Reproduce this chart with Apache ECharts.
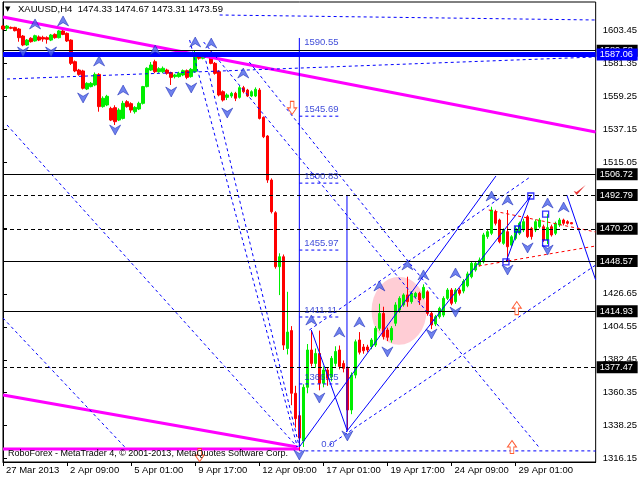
<!DOCTYPE html>
<html><head><meta charset="utf-8">
<script src="https://cdn.jsdelivr.net/npm/echarts@6/dist/echarts.min.js"></script>
<style>html,body{margin:0;padding:0;background:#fff}#c{width:640px;height:480px}</style>
</head><body><div id="c"></div>
<script>
// ---- candles (H4 bars) ----
const opens = [1606.1,1604.6,1605.2,1605.2,1604.1,1599.4,1593.4,1597.9,1596.1,1598.8,
1598.5,1598.3,1596.7,1600.5,1598.3,1602.8,1601.2,1596.7,1582.2,1576.6,
1576.0,1563.9,1565.5,1566.6,1573.7,1552.1,1553.2,1550.9,1551.4,1543.1,
1544.2,1555.4,1554.1,1548.7,1550.5,1554.3,1565.5,1576.6,1582.2,1575.5,
1575.5,1576.6,1574.9,1572.2,1572.2,1573.3,1576.2,1572.2,1575.5,1586.7,
1584.5,1585.6,1587.4,1581.1,1575.5,1562.1,1558.3,1559.2,1561.0,1558.3,
1564.8,1563.2,1559.2,1559.2,1563.2,1544.9,1532.4,1502.9,1481.0,1444.8,
1451.5,1390.0,1402.0,1360.0,1345.0,1328.0,1364.0,1389.0,1380.0,1386.7,
1366.7,1375.6,1371.0,1380.0,1389.0,1380.0,1376.7,1348.8,1372.2,1395.7,
1391.0,1391.0,1391.2,1392.3,1403.5,1413.5,1402.4,1395.7,1406.9,1415.8,
1419.2,1425.9,1421.4,1424.7,1427.0,1424.0,1428.0,1413.5,1406.4,1411.3,
1412.4,1423.6,1429.2,1421.4,1429.2,1428.5,1432.0,1438.1,1442.6,1446.0,
1448.2,1465.0,1467.2,1481.7,1476.1,1460.5,1468.3,1459.3,1463.8,1467.2,
1469.4,1478.3,1470.5,1469.4,1471.6,1471.6,1463.0,1471.6,1467.2,1472.8,
1476.1,1475.0,1474.33];
const closes = [1604.1,1606.1,1604.6,1603.0,1598.3,1593.4,1596.7,1595.6,1599.6,1596.7,
1597.4,1597.2,1600.1,1598.3,1602.8,1600.5,1596.1,1581.1,1576.0,1573.7,
1564.4,1567.7,1567.7,1573.7,1552.1,1557.7,1559.0,1543.1,1542.0,1549.8,
1554.3,1552.1,1549.8,1551.6,1554.3,1565.5,1577.8,1580.0,1575.5,1577.5,
1577.8,1574.4,1571.7,1573.3,1574.4,1576.2,1571.7,1577.1,1586.7,1584.5,
1586.0,1586.7,1581.1,1574.4,1559.9,1556.5,1559.9,1561.0,1557.7,1564.8,
1562.1,1559.2,1562.1,1563.7,1544.2,1531.9,1502.9,1481.7,1444.8,1451.5,
1392.3,1401.0,1360.0,1343.0,1330.0,1364.0,1389.0,1380.0,1386.7,1366.7,
1375.6,1370.0,1383.4,1388.0,1378.0,1376.7,1348.8,1372.2,1394.5,1387.5,
1388.5,1389.0,1395.7,1403.5,1413.5,1398.0,1397.5,1403.5,1419.2,1423.6,
1425.9,1421.4,1427.0,1427.0,1422.5,1431.0,1413.5,1405.8,1411.3,1416.9,
1423.6,1429.2,1420.3,1429.2,1427.0,1435.0,1440.0,1447.1,1447.1,1449.3,
1466.1,1468.3,1482.8,1473.9,1461.6,1469.4,1458.2,1464.9,1470.5,1473.9,
1475.0,1465.0,1465.0,1475.0,1476.1,1462.7,1471.0,1466.1,1473.9,1476.1,
1473.9,1473.9,1473.59];
const lows = [1603.4,1602.8,1604.0,1602.5,1595.6,1592.6,1592.8,1595.0,1595.6,1596.0,
1595.6,1594.3,1596.0,1597.6,1597.8,1600.0,1595.4,1580.0,1575.2,1572.8,
1563.6,1563.2,1565.0,1565.8,1548.7,1551.4,1552.4,1542.4,1539.8,1542.4,
1543.5,1551.4,1548.0,1547.4,1549.8,1553.5,1565.0,1576.0,1574.5,1574.8,
1574.5,1573.5,1566.6,1571.0,1571.5,1572.5,1570.5,1571.5,1574.8,1583.5,
1583.8,1585.0,1580.5,1573.5,1559.0,1555.5,1556.5,1558.0,1555.8,1557.5,
1561.0,1558.5,1558.5,1558.5,1543.5,1531.0,1501.0,1480.5,1443.5,1425.8,
1389.0,1386.0,1352.0,1337.0,1321.4,1324.0,1360.0,1378.0,1377.0,1362.0,
1364.0,1365.0,1368.0,1378.0,1376.0,1374.0,1335.4,1346.0,1370.0,1386.0,
1386.5,1387.5,1389.5,1391.0,1402.0,1396.0,1395.0,1394.0,1405.0,1414.0,
1418.0,1418.0,1420.0,1423.5,1419.2,1423.0,1412.0,1403.0,1405.0,1410.0,
1411.0,1422.5,1419.0,1420.0,1425.5,1427.0,1431.0,1437.0,1441.5,1445.0,
1447.0,1463.5,1466.0,1472.5,1460.5,1459.5,1448.2,1458.0,1462.5,1466.0,
1468.0,1464.0,1463.0,1468.0,1470.5,1461.5,1460.0,1465.0,1466.0,1471.5,
1472.5,1473.0,1473.31];
const highs = [1606.8,1606.8,1605.8,1605.6,1604.8,1600.1,1597.4,1598.6,1600.3,1599.8,
1599.6,1599.2,1600.8,1601.2,1603.4,1604.1,1601.8,1597.2,1583.0,1577.4,
1576.8,1568.4,1568.6,1575.0,1574.5,1559.0,1560.0,1552.0,1553.0,1551.0,
1556.0,1556.4,1555.0,1552.4,1555.4,1566.0,1578.5,1582.0,1583.5,1578.5,
1579.0,1577.5,1575.5,1574.0,1575.5,1577.0,1577.0,1578.0,1589.5,1588.0,
1587.0,1588.5,1589.0,1582.0,1576.5,1563.0,1561.0,1562.0,1562.0,1566.0,
1566.0,1564.0,1563.0,1565.0,1564.5,1545.5,1533.0,1504.0,1482.0,1453.8,
1453.0,1428.0,1405.0,1365.0,1348.0,1366.0,1393.0,1402.4,1390.0,1402.0,
1378.0,1377.0,1385.0,1391.5,1392.0,1382.0,1378.0,1374.0,1396.0,1401.0,
1393.0,1392.5,1397.0,1405.0,1420.0,1418.0,1404.0,1405.0,1421.0,1425.0,
1427.0,1438.1,1428.5,1428.0,1428.0,1433.0,1429.0,1414.5,1412.5,1418.0,
1425.0,1430.5,1430.5,1430.5,1430.5,1436.5,1441.5,1448.5,1448.5,1451.0,
1467.5,1470.0,1485.0,1483.0,1477.0,1470.5,1482.8,1466.0,1472.0,1475.0,
1477.0,1479.5,1471.5,1476.5,1477.5,1473.0,1480.0,1473.0,1475.0,1477.5,
1477.0,1476.0,1474.67];
const slotCount = 149;

// ---- axis ticks ----
const tickIndex = [0,16,32,48,64,80,96,112,128];
const tickLabels = ['27 Mar 2013','2 Apr 09:00','5 Apr 01:00','9 Apr 17:00','12 Apr 09:00','17 Apr 01:00','19 Apr 17:00','24 Apr 09:00','29 Apr 01:00'];
const priceTicks = [1603.45,1581.35,1559.25,1537.15,1515.05,1492.95,1470.85,1448.75,1426.65,1404.55,1382.45,1360.35,1338.25,1316.15];

// ---- horizontal levels ----
const solidLevels = [1589.58,1506.72,1448.57,1414.93];
const dashedLevels = [1492.79,1470.20,1377.47];
const blueLevel = 1587.06;
const lastPrice = 1473.59;

// ---- fibonacci ----
const fibLevels = [1590.55,1545.69,1500.83,1455.97,1411.11,1366.25,1321.39];
const fibTexts = ['1590.55','1545.69','1500.83','1455.97','1411.11','1366.25','0.0'];
const fibTextX = [75.2,75.2,75.2,75.2,75.2,75.2,79.5];

// ---- drawn lines ([barIndex, price] end points) ----
const magentaLines = [[[0,1612.16],[148,1535.10]],[[0,1358.85],[73.5,1324.0]],[[0,1322.66],[74,1322.66]]];
const blueSolidLines = [[[74,1598.1],[74,1324.0]],[[85.9,1492.5],[85.9,1334.05]],[[74,1324.0],[123.1,1505.6]],
  [[85.7,1334.05],[131.8,1492.2]],[[77.0,1402.4],[85.9,1335.4]],[[125.6,1448.0],[131.8,1492.9]],[[140.8,1492.9],[148,1435.9]]];
const blueDashedLines = [[[1.0,1570.6],[148,1585.36]],[[54.1,1613.5],[148,1610.15]],[[46.6,1596.75],[73.5,1324.0]],
  [[1.0,1539.8],[73.5,1324.0]],[[50.3,1586.7],[74,1324.0]],[[50.1,1595.4],[133.8,1324.0]],[[61.5,1582.0],[108.9,1422.5]],
  [[81.5,1325.3],[148,1445.9]],[[0,1410.4],[30.4,1324.0]],[[76.5,1402.4],[131.3,1504.3]],
  [[74,1545.69],[84,1545.69]],[[74,1500.83],[84,1500.83]],[[74,1455.97],[84,1455.97]],[[74,1411.11],[84,1411.11]],
  [[74,1366.25],[84,1366.25]],[[74,1321.39],[148,1321.39]]];
const redDashedLines = [[[121.3,1482.8],[148,1468.1]],[[118.8,1445.3],[148,1458.7]]];
const whiteDashedLines = [[[94.4,1427.2],[103.1,1427.2]],[[93.2,1404.4],[103.4,1404.4]]];

// ---- markers ----
const fractalUp = [[8,1607.5],[15,1609.5],[24,1582.7],[30,1563.2],[38,1590.0],[48,1595.4],[52,1594.7],[60,1574.6],
  [77,1409.1],[84,1401.1],[89,1407.8],[94,1431.9],[101,1446.0],[105,1439.3],[113,1440.6],[122,1492.2],[126,1489.5],[136,1487.5],[140,1484.8]];
const fractalDown = [[5,1588.7],[12,1588.7],[20,1557.9],[28,1536.4],[42,1561.9],[47,1564.6],[56,1547.8],
  [74,1318.6],[79,1356.8],[86,1331.4],[96,1387.7],[107,1399.7],[113,1414.4],[126,1442.6],[131,1457.4],[136,1456.0]];
const squares = [[131.8,1492.2],[125.6,1448.0],[128.5,1470.1],[135.5,1480.1],[135.5,1460.7]];
const pinkZone = [[98.9,1415.3]];
const checkMark = [[144.0,1496.2]];
const hollowDown = [[72.2,1551.2],[49.1,1318.5]];
const hollowUp = [[127.1,1324.0],[128.3,1417.1]];

const FONT = 'Liberation Sans';
const chart = echarts.init(document.getElementById('c'), null, {renderer:'canvas'});

function segSeries(pts, color, width, type, z) {
  return {type:'line', xAxisIndex:1, yAxisIndex:0, data:pts, symbol:'none', silent:true,
    lineStyle:{color:color, width:width, type:type}, z:z, animation:false};
}
const series = [];
series.push({type:'scatter', xAxisIndex:1, data:pinkZone, symbol:'circle', symbolSize:[55,68],
  itemStyle:{color:'#ffc0cb'}, z:1, silent:true});
whiteDashedLines.forEach(s => series.push(segSeries(s,'#ffffff',1,[4,3],1)));
series.push({type:'candlestick', xAxisIndex:0, yAxisIndex:0,
  data: opens.map((o,k)=>[o, closes[k], lows[k], highs[k]]),
  barWidth:3,
  itemStyle:{color:'#00ee00', color0:'#ff0000', borderColor:'#00ee00', borderColor0:'#ff0000', borderWidth:1},
  z:3, silent:true});
magentaLines.forEach(s => series.push(segSeries(s,'#ff00ff',3,'solid',4)));
blueSolidLines.forEach(s => series.push(segSeries(s,'#0000ff',1,'solid',4)));
blueDashedLines.forEach(s => series.push(segSeries(s,'#0000ff',1,[3,3],4)));
redDashedLines.forEach(s => series.push(segSeries(s,'#ff0000',1,[3,3],4)));

const boxLabel = (bg) => ({show:true, position:'end', distance:1, color:'#fff', backgroundColor:bg,
  width:37, align:'left', padding:[1,1,0,3], lineHeight:11, fontSize:9.2, fontFamily:FONT,
  formatter:(p)=>Number(p.value).toFixed(2)});
const mlData = [];
solidLevels.forEach(v => mlData.push({yAxis:v, lineStyle:{color:'#000', width:1, type:'solid'}, label:boxLabel('#000')}));
dashedLevels.forEach(v => mlData.push({yAxis:v, lineStyle:{color:'#000', width:1, type:[4,3]}, label:boxLabel('#000')}));
mlData.push({yAxis:lastPrice, lineStyle:{opacity:0}, label:boxLabel('#000')});
mlData.push({yAxis:blueLevel, lineStyle:{color:'#0000ff', width:5, type:'solid'}, label:boxLabel('#0000ff')});
const i1470 = mlData.findIndex(d => d.yAxis === 1470.20);
const d1470 = mlData.splice(i1470,1)[0];
mlData.push(d1470);
series.push({type:'line', xAxisIndex:1, data:[[0,1450]], symbol:'none', lineStyle:{opacity:0}, z:5, silent:true,
  markLine:{symbol:'none', silent:true, animation:false, data:mlData}});

series.push({type:'scatter', xAxisIndex:1, data:fractalUp, symbol:'path://M6,0 L12,12 L6,8 L0,12 Z', symbolSize:[11,10],
  itemStyle:{color:'#4a62e8', borderColor:'#0a1ab0', borderWidth:0.6}, z:6, silent:true});
series.push({type:'scatter', xAxisIndex:1, data:fractalDown, symbol:'path://M0,0 L6,4 L12,0 L6,12 Z', symbolSize:[11,10],
  itemStyle:{color:'#4a62e8', borderColor:'#0a1ab0', borderWidth:0.6}, z:6, silent:true});
series.push({type:'scatter', xAxisIndex:1, data:squares, symbol:'rect', symbolSize:6,
  itemStyle:{color:'rgba(255,255,255,0)', borderColor:'#0000ff', borderWidth:1.3}, z:6, silent:true});
series.push({type:'scatter', xAxisIndex:1, data:checkMark, symbol:'path://M0,6 L3,10 L12,0 L3,7 Z', symbolSize:[12,10],
  itemStyle:{color:'#e00000'}, z:6, silent:true});
series.push({type:'scatter', xAxisIndex:1, data:hollowDown, symbol:'path://M3,0 L7,0 L7,6 L10,6 L5,12 L0,6 L3,6 Z', symbolSize:[9,13],
  itemStyle:{color:'#ffffff', borderColor:'#ff3300', borderWidth:1}, z:6, silent:true});
series.push({type:'scatter', xAxisIndex:1, data:hollowUp, symbol:'path://M5,0 L10,6 L7,6 L7,12 L3,12 L3,6 L0,6 Z', symbolSize:[9,13],
  itemStyle:{color:'#ffffff', borderColor:'#ff3300', borderWidth:1}, z:6, silent:true});
series.push({type:'scatter', xAxisIndex:1, data:fibLevels.map((v,k)=>({value:[fibTextX[k], v], name:fibTexts[k]})),
  symbolSize:0, z:6, silent:true,
  label:{show:true, position:'right', distance:0, offset:[0,-7], formatter:(p)=>p.name, color:'#1020d0', fontSize:9.5, fontFamily:FONT}});

const categories = Array.from({length:slotCount}, (_,k)=>String(k));

chart.setOption({
  animation:false,
  backgroundColor:'#ffffff',
  textStyle:{fontFamily:FONT},
  grid:{left:3, right:43, top:2, bottom:18, show:true, borderColor:'#000', borderWidth:1, backgroundColor:'#fff'},
  xAxis:[{
    type:'category', data:categories, boundaryGap:false,
    axisLine:{show:true, lineStyle:{color:'#000'}},
    axisTick:{show:true, length:4, lineStyle:{color:'#000'}, interval:(idx)=>tickIndex.includes(idx)},
    axisLabel:{show:true, interval:(idx)=>tickIndex.includes(idx), align:'left', margin:3, padding:[0,0,0,3],
      formatter:(v, idx)=>tickLabels[tickIndex.indexOf(idx)] || '', color:'#000', fontSize:9.5, fontFamily:FONT},
    splitLine:{show:false}
  },{
    type:'value', min:0, max:slotCount-1, show:false
  }],
  yAxis:{
    type:'value', position:'right', min:1313.94, max:1622.21, scale:true,
    axisLine:{show:true, lineStyle:{color:'#000'}},
    axisTick:{show:true, length:4, customValues:priceTicks, lineStyle:{color:'#000'}},
    axisLabel:{show:true, customValues:priceTicks, margin:7, color:'#000', fontSize:9.5, fontFamily:FONT,
      formatter:(v)=>Number(v).toFixed(2)},
    splitLine:{show:false}
  },
  graphic:[
    {type:'text', left:5, top:6, style:{text:'▼', font:'7px "DejaVu Sans"', fill:'#000'}, z:10},
    {type:'text', left:18, top:4, style:{text:'XAUUSD,H4  1474.33 1474.67 1473.31 1473.59', font:'9.5px "Liberation Sans"', fill:'#000'}, z:10},
    {type:'text', left:8, top:449, style:{text:'RoboForex - MetaTrader 4, © 2001-2013, MetaQuotes Software Corp.', font:'9px "Liberation Sans"', fill:'#000'}, z:10}
  ],
  series:series
});
</script></body></html>
